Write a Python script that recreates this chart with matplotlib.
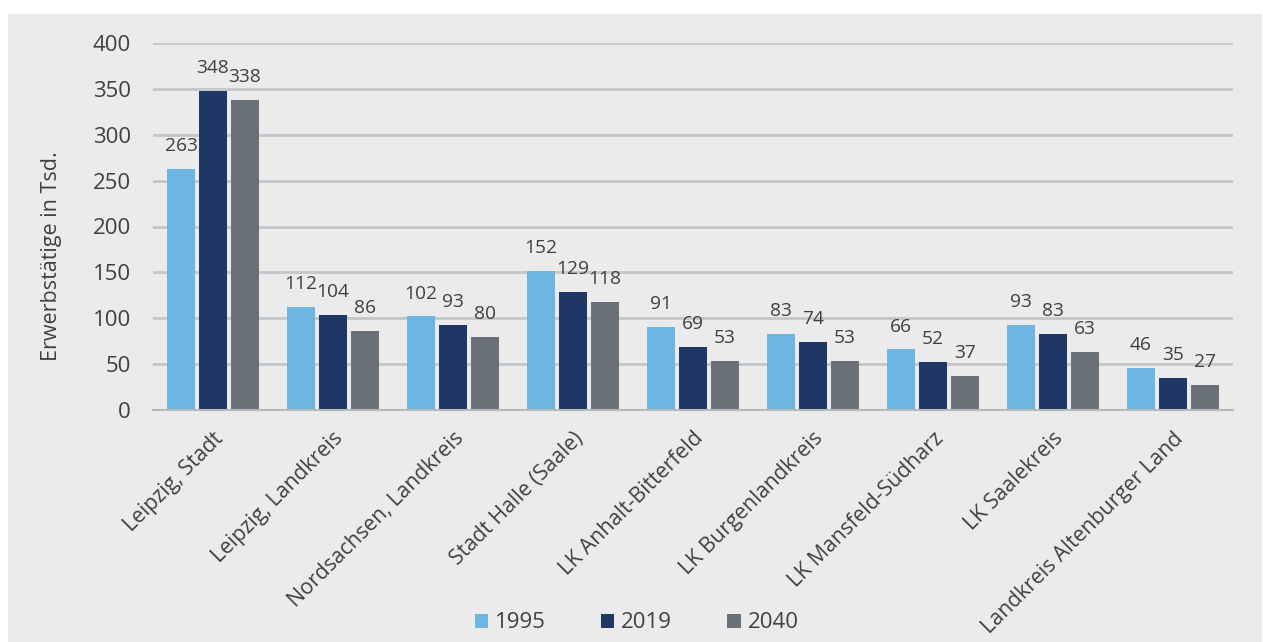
import matplotlib.pyplot as plt
import numpy as np

categories = ["Leipzig, Stadt", "Leipzig, Landkreis", "Nordsachsen, Landkreis",
              "Stadt Halle (Saale)", "LK Anhalt-Bitterfeld", "LK Burgenlandkreis",
              "LK Mansfeld-Südharz", "LK Saalekreis", "Landkreis Altenburger Land"]
series_names = ["1995", "2019", "2040"]
values_1995 = [263, 112, 102, 152, 91, 83, 66, 93, 46]
values_2019 = [348, 104, 93, 129, 69, 74, 52, 83, 35]
values_2040 = [338, 86, 80, 118, 53, 53, 37, 63, 27]
colors = ["#6db6e2", "#1f3764", "#697078"]
yticks = [0, 50, 100, 150, 200, 250, 300, 350, 400]

plt.rcParams['font.family'] = ['Open Sans', 'DejaVu Sans']
text_color = "#404040"

fig = plt.figure(figsize=(12.63, 6.42), dpi=100)
fig.patch.set_facecolor("white")
# grey panel behind the chart
bg = fig.add_axes([8 / 1263, 0, 1 - 9 / 1263, 1 - 14 / 642], zorder=-10)
bg.set_facecolor("#ebebeb")
bg.set_xticks([])
bg.set_yticks([])
for s in bg.spines.values():
    s.set_visible(False)

ax = fig.add_axes([153 / 1263, 1 - 410 / 642, 1080 / 1263, 367 / 642])
ax.set_facecolor("none")

x = np.arange(len(categories))
width = 0.235
step = 0.267
all_series = [values_1995, values_2019, values_2040]
for i, (vals, col, name) in enumerate(zip(all_series, colors, series_names)):
    pos = x + (i - 1) * step
    ax.bar(pos, vals, width, color=col, label=name, zorder=3)
    for xp, v in zip(pos, vals):
        ax.annotate(str(v), (xp, v), xytext=(0, 10), textcoords="offset points",
                    ha="center", va="bottom", fontsize=13.8, color=text_color)

ax.set_xlim(-0.5, len(categories) - 0.5)
ax.set_ylim(0, 400)
ax.set_yticks(yticks)
ax.yaxis.grid(True, color="#c3c7ca", linewidth=2, zorder=0)
ax.set_axisbelow(True)
for s in ["top", "right", "left"]:
    ax.spines[s].set_visible(False)
ax.spines["bottom"].set_color("#b5b9bc")
ax.spines["bottom"].set_linewidth(1.5)
ax.spines["bottom"].set_zorder(4)
ax.tick_params(axis="both", length=0, labelsize=16, labelcolor=text_color)
ax.tick_params(axis="y", pad=16)
ax.set_xticks(x)
ax.set_xticklabels(categories, rotation=45, ha="right", rotation_mode="anchor",
                   fontsize=15.3)
ax.tick_params(axis="x", pad=13)
ax.set_ylabel("Erwerbstätige in Tsd.", fontsize=15.5, color=text_color)
ax.yaxis.set_label_coords(-0.084, 0.42)

leg = fig.legend(loc="center", bbox_to_anchor=(636.5 / 1263, 1 - 623 / 642), ncol=3,
                 frameon=False, fontsize=16, handlelength=0.6, handleheight=0.6,
                 handletextpad=0.3, columnspacing=2.5)
for t in leg.get_texts():
    t.set_color(text_color)

fig.savefig("out.png", dpi=100, facecolor=fig.get_facecolor())
